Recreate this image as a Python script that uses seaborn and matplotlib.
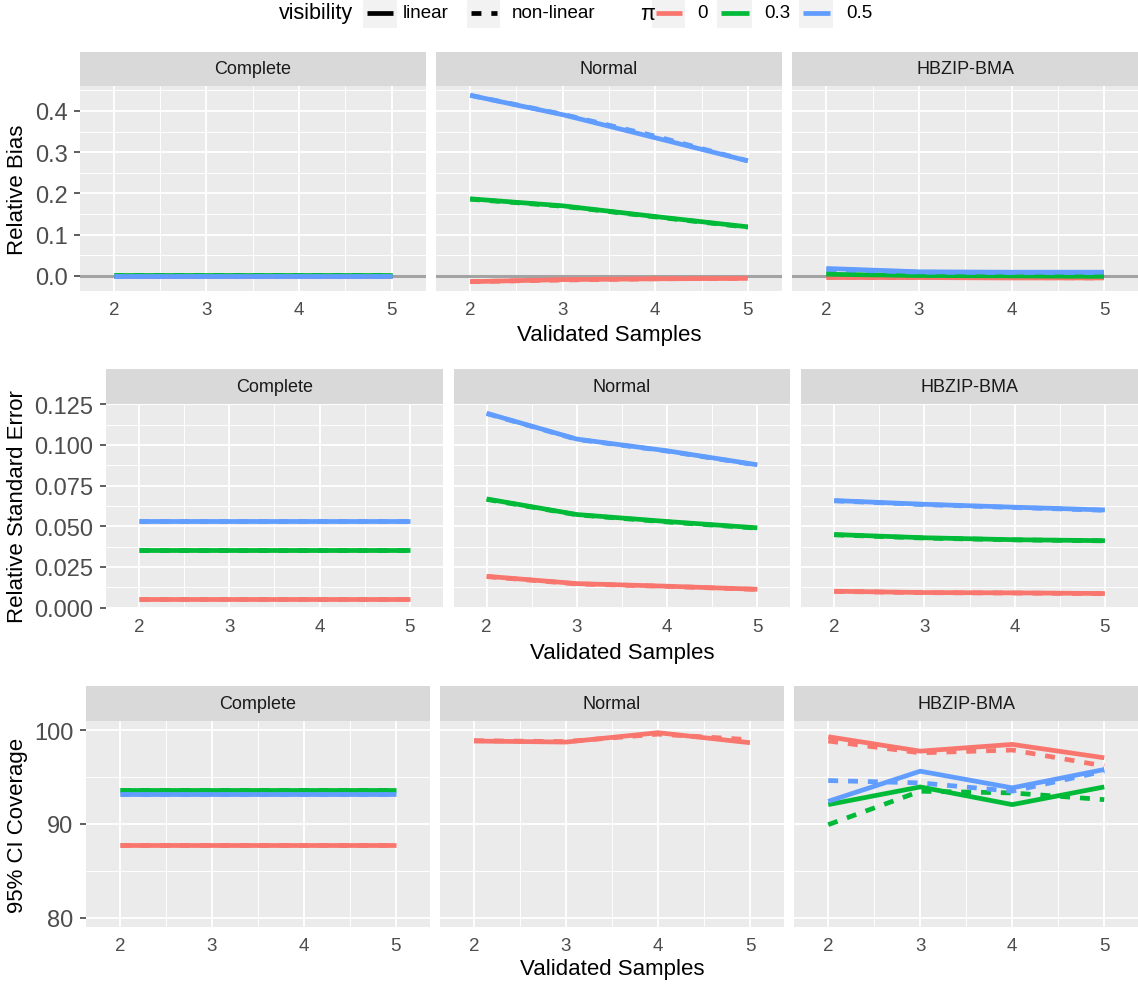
import matplotlib
matplotlib.use("Agg")
import matplotlib.pyplot as plt
import numpy as np
import pandas as pd
import seaborn as sns
from matplotlib.lines import Line2D
from matplotlib.patches import Rectangle

# ---------------- data ----------------
samples = [2, 3, 4, 5]
methods = ["Complete", "Normal", "HBZIP-BMA"]
pi_levels = ["0", "0.3", "0.5"]
visibility_levels = ["linear", "non-linear"]
# each metric/method table: rows = (pi 0 lin, pi 0 nonlin, pi 0.3 lin, pi 0.3 nonlin, pi 0.5 lin, pi 0.5 nonlin)
series_pi = ["0", "0", "0.3", "0.3", "0.5", "0.5"]
series_vis = ["linear", "non-linear", "linear", "non-linear", "linear", "non-linear"]

bias_complete = [
    [0.000, 0.000, 0.000, 0.000], [0.000, 0.000, 0.000, 0.000],
    [0.0015, 0.0015, 0.0015, 0.0015], [0.0015, 0.0015, 0.0015, 0.0015],
    [-0.0005, -0.0005, -0.0005, -0.0005], [-0.0005, -0.0005, -0.0005, -0.0005],
]
bias_normal = [
    [-0.014, -0.009, -0.007, -0.006], [-0.014, -0.010, -0.007, -0.006],
    [0.187, 0.170, 0.144, 0.119], [0.186, 0.169, 0.143, 0.118],
    [0.438, 0.391, 0.335, 0.279], [0.438, 0.392, 0.339, 0.279],
]
bias_hbzip = [
    [-0.004, -0.004, -0.005, -0.005], [-0.003, -0.004, -0.004, -0.005],
    [0.004, 0.001, 0.000, -0.001], [0.006, 0.002, 0.001, 0.000],
    [0.018, 0.010, 0.009, 0.009], [0.016, 0.009, 0.008, 0.008],
]

se_complete = [
    [0.0053, 0.0053, 0.0053, 0.0053], [0.0053, 0.0053, 0.0053, 0.0053],
    [0.0355, 0.0355, 0.0355, 0.0355], [0.0355, 0.0355, 0.0355, 0.0355],
    [0.0531, 0.0531, 0.0531, 0.0531], [0.0531, 0.0531, 0.0531, 0.0531],
]
se_normal = [
    [0.0192, 0.0147, 0.0131, 0.0112], [0.0190, 0.0145, 0.0130, 0.0111],
    [0.0668, 0.0572, 0.0529, 0.0490], [0.0665, 0.0570, 0.0526, 0.0488],
    [0.1195, 0.1036, 0.0964, 0.0878], [0.1193, 0.1034, 0.0962, 0.0876],
]
se_hbzip = [
    [0.0100, 0.0092, 0.0090, 0.0086], [0.0099, 0.0091, 0.0089, 0.0085],
    [0.0449, 0.0429, 0.0417, 0.0411], [0.0447, 0.0427, 0.0416, 0.0410],
    [0.0658, 0.0635, 0.0617, 0.0600], [0.0656, 0.0633, 0.0615, 0.0598],
]

cov_complete = [
    [87.78, 87.78, 87.78, 87.78], [87.78, 87.78, 87.78, 87.78],
    [93.68, 93.68, 93.68, 93.68], [93.68, 93.68, 93.68, 93.68],
    [93.20, 93.20, 93.20, 93.20], [93.20, 93.20, 93.20, 93.20],
]
cov_normal = [  # pi 0.3 / 0.5 fall below the 80-100 axis range
    [98.86, 98.75, 99.75, 98.68], [98.90, 98.80, 99.60, 99.00],
    None, None,
    None, None,
]
cov_hbzip = [
    [99.32, 97.78, 98.50, 97.07], [98.86, 97.60, 97.90, 96.20],
    [92.07, 93.96, 92.07, 93.96], [89.93, 93.50, 93.32, 92.60],
    [92.42, 95.64, 93.86, 95.82], [94.64, 94.39, 93.50, 95.64],
]


def long_df(rows):
    recs = []
    for p, v, vals in zip(series_pi, series_vis, rows):
        if vals is None:
            continue
        for s, val in zip(samples, vals):
            recs.append(dict(pi=p, visibility=v, samples=s, value=val))
    return pd.DataFrame(recs)


# ---------------- style ----------------
sns.set_theme(style="darkgrid")
plt.rcParams["font.family"] = ["Liberation Sans", "DejaVu Sans"]

W, H = 1138, 987
fig = plt.figure(figsize=(W / 100, H / 100), dpi=100)


def fx(px):
    return px / W


def fy(py):
    return 1 - py / H


palette = {"0": "#F8766D", "0.3": "#00BA38", "0.5": "#619CFF"}
dash_map = {"linear": "", "non-linear": (2.1, 2.1)}
LW = 3.4

# row 1 limits from data with 5% expansion (ggplot default)
allbias = np.array(bias_complete + bias_normal + bias_hbzip, dtype=float)
bmin, bmax = allbias.min(), allbias.max()
br = bmax - bmin
bias_lim = (bmin - 0.05 * br, bmax + 0.05 * br)

rows = [
    dict(data=[bias_complete, bias_normal, bias_hbzip], L=80, strip=(52.5, 87), panel=(87, 292),
         ylim=bias_lim, yticks=[0.0, 0.1, 0.2, 0.3, 0.4], ylabels=["0.0", "0.1", "0.2", "0.3", "0.4"],
         yminor=[0.05, 0.15, 0.25, 0.35, 0.45], ylabel="Relative Bias", xlab_y=335, hline=True),
    dict(data=[se_complete, se_normal, se_hbzip], L=106, strip=(370, 404.5), panel=(404.5, 608.5),
         ylim=(0.0, 0.1255), yticks=[0.0, 0.025, 0.05, 0.075, 0.1, 0.125],
         ylabels=["0.000", "0.025", "0.050", "0.075", "0.100", "0.125"],
         yminor=[0.0125, 0.0375, 0.0625, 0.0875, 0.1125], ylabel="Relative Standard Error", xlab_y=654,
         hline=False),
    dict(data=[cov_complete, cov_normal, cov_hbzip], L=86, strip=(687, 722), panel=(722, 928),
         ylim=(79.0, 101.0), yticks=[80, 90, 100], ylabels=["80", "90", "100"],
         yminor=[85, 95], ylabel="95% CI Coverage", xlab_y=970, hline=False),
]

GAP = 10.7
RIGHT = 1138
for row in rows:
    L = row["L"]
    pw = (RIGHT - L - 2 * GAP) / 3
    st, sb = row["strip"]
    pt, pb = row["panel"]
    for i, (method, tab) in enumerate(zip(methods, row["data"])):
        left = L + i * (pw + GAP)
        ax = fig.add_axes([fx(left), fy(pb), pw / W, (pb - pt) / H])
        ax.set_facecolor("#EBEBEB")
        for s in ax.spines.values():
            s.set_visible(False)
        ax.set_axisbelow(True)
        if row["hline"]:
            ax.axhline(0, color="#A3A3A3", lw=2.2, zorder=1.5)
        df = long_df(tab)
        sns.lineplot(data=df, x="samples", y="value", hue="pi", style="visibility",
                     hue_order=pi_levels, style_order=visibility_levels,
                     palette=palette, dashes=dash_map, linewidth=LW, errorbar=None,
                     legend=False, ax=ax, solid_capstyle="butt", dash_capstyle="butt",
                     zorder=2)
        ax.set_xlim(1.633, 5.367)
        ax.set_ylim(*row["ylim"])
        ax.set_xticks(samples)
        ax.set_xticklabels([str(s) for s in samples])
        ax.set_xticks([2.5, 3.5, 4.5], minor=True)
        ax.set_yticks(row["yticks"])
        ax.set_yticklabels(row["ylabels"])
        ax.set_yticks(row["yminor"], minor=True)
        ax.grid(which="major", color="white", lw=1.3)
        ax.grid(which="minor", color="white", lw=0.65)
        ax.tick_params(which="minor", length=0)
        ax.tick_params(axis="x", which="major", length=4, width=1.1, color="#333333",
                       labelsize=13.5, labelcolor="#4D4D4D", pad=3.5)
        if i == 0:
            ax.tick_params(axis="y", which="major", left=True, length=4, width=1.1, color="#333333",
                           labelsize=17, labelcolor="#4D4D4D", pad=5)
        else:
            ax.tick_params(axis="y", which="major", left=False, labelleft=False)
        ax.set_xlabel("")
        ax.set_ylabel("")
        # strip
        sax = fig.add_axes([fx(left), fy(sb), pw / W, (sb - st) / H])
        sax.set_facecolor("#D9D9D9")
        sax.set_xticks([])
        sax.set_yticks([])
        sax.grid(False)
        for s in sax.spines.values():
            s.set_visible(False)
        sax.text(0.5, 0.5, method, ha="center", va="center", fontsize=13, color="#1A1A1A",
                 transform=sax.transAxes)
    fig.text(fx(18), fy((pt + pb) / 2), row["ylabel"], rotation=90, ha="center", va="center",
             fontsize=16, color="black")
    fig.text(fx((L + RIGHT) / 2), fy(row["xlab_y"]), "Validated Samples", ha="center", va="center",
             fontsize=16, color="black")

# ---------------- legend (top) ----------------
LY = 14


def key(x0, x1, color, dashed=False):
    fig.add_artist(Rectangle((fx(x0), fy(29)), (x1 - x0) / W, 29 / H, transform=fig.transFigure,
                             facecolor="#F2F2F2", edgecolor="none"))
    ln = Line2D([fx(x0 + 3.5), fx(x1 - 3.5)], [fy(LY), fy(LY)], transform=fig.transFigure,
                color=color, lw=LW, solid_capstyle="butt", dash_capstyle="butt")
    if dashed:
        ln.set_dashes(dash_map["non-linear"])
    fig.add_artist(ln)


fig.text(fx(279), fy(LY), "visibility", ha="left", va="center", fontsize=15.5, color="black")
key(363, 397, "black")
fig.text(fx(403), fy(LY), "linear", ha="left", va="center", fontsize=13.5, color="black")
key(467, 500, "black", dashed=True)
fig.text(fx(512), fy(LY), "non-linear", ha="left", va="center", fontsize=13.5, color="black")
fig.text(fx(640), fy(LY), "π", ha="left", va="center", fontsize=15.5, color="black")
key(652, 685, palette["0"])
fig.text(fx(697), fy(LY), "0", ha="left", va="center", fontsize=13.5, color="black")
key(717, 752, palette["0.3"])
fig.text(fx(764), fy(LY), "0.3", ha="left", va="center", fontsize=13.5, color="black")
key(799, 833, palette["0.5"])
fig.text(fx(846), fy(LY), "0.5", ha="left", va="center", fontsize=13.5, color="black")

fig.savefig("out.png", dpi=100, facecolor="white")
